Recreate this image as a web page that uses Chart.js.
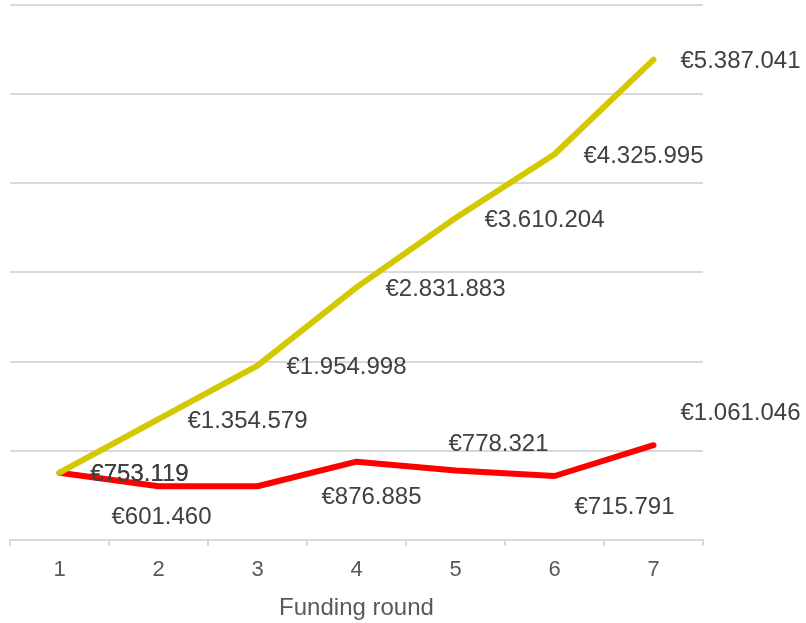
<!DOCTYPE html>
<html>
<head>
<meta charset="utf-8">
<script src="https://cdn.jsdelivr.net/npm/chart.js@4.4.1/dist/chart.umd.min.js"></script>
<style>
  html, body { margin: 0; padding: 0; background: #fff; }
  #wrap { width: 806px; height: 623px; }
</style>
</head>
<body>
<div id="wrap"><canvas id="myChart"></canvas></div>
<script>
var rounds = ['1', '2', '3', '4', '5', '6', '7'];
var yellowValues = [753119, 1354579, 1954998, 2831883, 3610204, 4325995, 5387041];
var redValues = [753119, 601460, 600500, 876885, 778321, 715791, 1061046];
var redShown = [true, true, false, true, true, true, true];

// label offsets from each point (centre of text), in px
var yellowOffsets = [[80, 2], [89, 2], [89, 2], [89, 2], [89, 2], [89, 2], [87, 2]];
var redOffsets = [[80, 2], [3, 31], [0, 0], [15, 36], [43, -26], [70, 31], [87, -32]];

function euro(v) {
  return '€' + v.toString().replace(/\B(?=(\d{3})+(?!\d))/g, '.');
}

var pointLabels = {
  id: 'pointLabels',
  afterDatasetsDraw: function(chart) {
    var c = chart.ctx;
    c.save();
    c.font = '24px "Liberation Sans", Arial, sans-serif';
    c.fillStyle = '#404040';
    c.textAlign = 'center';
    c.textBaseline = 'middle';
    chart.data.datasets.forEach(function(ds, i) {
      var meta = chart.getDatasetMeta(i);
      var offs = i === 0 ? yellowOffsets : redOffsets;
      meta.data.forEach(function(pt, j) {
        if (i === 1 && !redShown[j]) return;
        c.fillText(euro(ds.data[j]), pt.x + offs[j][0], pt.y + offs[j][1]);
      });
    });
    c.restore();
  }
};

var ctx = document.getElementById('myChart');
var chart = new Chart(ctx, {
  type: 'line',
  data: {
    labels: rounds,
    datasets: [
      {
        data: yellowValues,
        borderColor: '#D4C800',
        borderWidth: 6,
        borderCapStyle: 'round',
        borderJoinStyle: 'round',
        pointRadius: 0,
        tension: 0
      },
      {
        data: redValues,
        borderColor: '#FF0000',
        borderWidth: 6,
        borderCapStyle: 'round',
        borderJoinStyle: 'round',
        pointRadius: 0,
        tension: 0
      }
    ]
  },
  options: {
    responsive: true,
    maintainAspectRatio: false,
    animation: false,
    layout: { padding: { left: 10, right: 103, top: 5, bottom: 0 } },
    plugins: {
      legend: { display: false },
      tooltip: { enabled: false }
    },
    scales: {
      x: {
        offset: true,
        grid: {
          offset: true,
          drawOnChartArea: false,
          color: '#d9d9d9',
          lineWidth: 2,
          tickLength: 6
        },
        border: { color: '#d9d9d9', width: 2 },
        ticks: {
          color: '#595959',
          font: { family: '"Liberation Sans", Arial, sans-serif', size: 22 },
          padding: 11
        },
        title: {
          display: true,
          text: 'Funding round',
          color: '#595959',
          font: { family: '"Liberation Sans", Arial, sans-serif', size: 24 },
          padding: { top: 0, bottom: 0 }
        }
      },
      y: {
        min: 0,
        max: 6000000,
        ticks: { display: false, stepSize: 1000000 },
        border: { display: false },
        grid: { color: '#d9d9d9', lineWidth: 2, drawTicks: false }
      }
    }
  },
  plugins: [pointLabels]
});
</script>
</body>
</html>
